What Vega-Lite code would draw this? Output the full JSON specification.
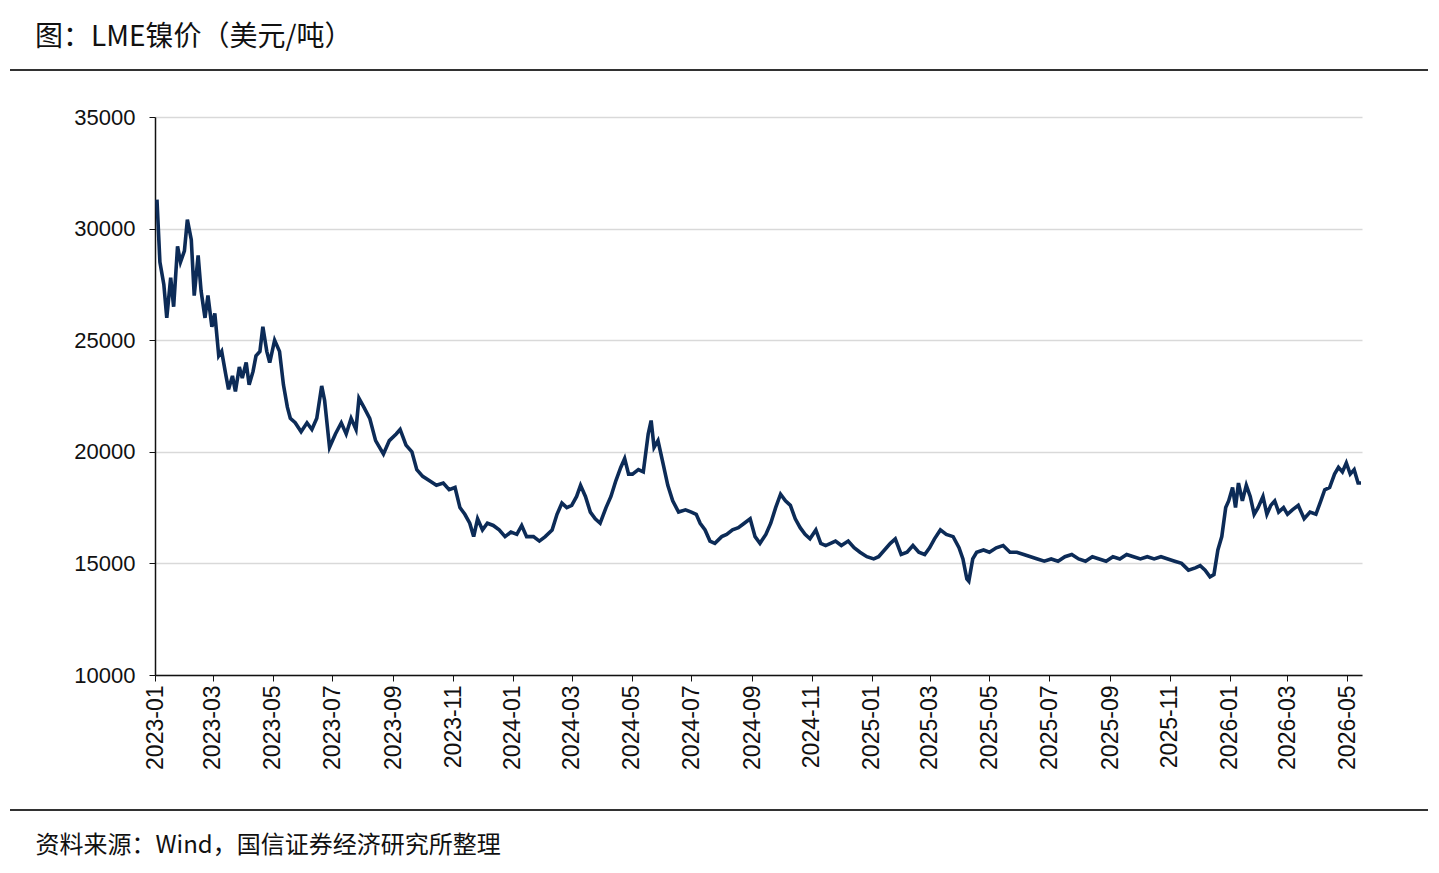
{
"$schema":"https://vega.github.io/schema/vega-lite/v6.json",
"autosize":"none","width":1207,"height":558,
"padding":{"left":155,"top":117,"right":77,"bottom":198},
"background":"white",
"config":{"view":{"stroke":null},"font":"Liberation Sans"},
"title":{"text":"图：LME镍价（美元/吨）","anchor":"start","frame":"group","dx":-120,"offset":17,"fontSize":28,"fontWeight":"normal","font":"Noto Sans CJK SC","color":"#111"},
"data":{"values":[
{"d":"2023-01-03","v":31300},{"d":"2023-01-06","v":28500},{"d":"2023-01-10","v":27500},{"d":"2023-01-13","v":26000},{"d":"2023-01-17","v":27800},{"d":"2023-01-20","v":26500},{"d":"2023-01-24","v":29200},{"d":"2023-01-27","v":28500},{"d":"2023-01-31","v":29000},{"d":"2023-02-03","v":30400},{"d":"2023-02-07","v":29500},{"d":"2023-02-10","v":27000},{"d":"2023-02-14","v":28800},{"d":"2023-02-17","v":27200},{"d":"2023-02-21","v":26000},{"d":"2023-02-24","v":27000},{"d":"2023-02-28","v":25600},{"d":"2023-03-03","v":26200},{"d":"2023-03-07","v":24300},{"d":"2023-03-10","v":24500},{"d":"2023-03-14","v":23500},{"d":"2023-03-17","v":22800},{"d":"2023-03-21","v":23400},{"d":"2023-03-24","v":22700},{"d":"2023-03-28","v":23800},{"d":"2023-03-31","v":23300},{"d":"2023-04-04","v":24000},{"d":"2023-04-07","v":23000},{"d":"2023-04-11","v":23600},{"d":"2023-04-14","v":24300},{"d":"2023-04-18","v":24500},{"d":"2023-04-21","v":25600},{"d":"2023-04-25","v":24500},{"d":"2023-04-28","v":24000},{"d":"2023-05-03","v":25000},{"d":"2023-05-08","v":24500},{"d":"2023-05-12","v":23000},{"d":"2023-05-16","v":22000},{"d":"2023-05-19","v":21500},{"d":"2023-05-24","v":21300},{"d":"2023-05-30","v":20900},{"d":"2023-06-05","v":21300},{"d":"2023-06-10","v":21000},{"d":"2023-06-15","v":21500},{"d":"2023-06-20","v":22950},{"d":"2023-06-23","v":22300},{"d":"2023-06-28","v":20200},{"d":"2023-07-04","v":20800},{"d":"2023-07-10","v":21300},{"d":"2023-07-15","v":20800},{"d":"2023-07-20","v":21500},{"d":"2023-07-25","v":21000},{"d":"2023-07-28","v":22400},{"d":"2023-08-02","v":22000},{"d":"2023-08-08","v":21500},{"d":"2023-08-14","v":20500},{"d":"2023-08-18","v":20200},{"d":"2023-08-22","v":19900},{"d":"2023-08-28","v":20500},{"d":"2023-09-04","v":20800},{"d":"2023-09-08","v":21000},{"d":"2023-09-14","v":20300},{"d":"2023-09-20","v":20000},{"d":"2023-09-25","v":19200},{"d":"2023-10-01","v":18900},{"d":"2023-10-08","v":18700},{"d":"2023-10-15","v":18500},{"d":"2023-10-22","v":18600},{"d":"2023-10-28","v":18300},{"d":"2023-11-03","v":18400},{"d":"2023-11-08","v":17500},{"d":"2023-11-13","v":17200},{"d":"2023-11-18","v":16800},{"d":"2023-11-22","v":16200},{"d":"2023-11-26","v":17000},{"d":"2023-12-01","v":16500},{"d":"2023-12-06","v":16800},{"d":"2023-12-12","v":16700},{"d":"2023-12-18","v":16500},{"d":"2023-12-24","v":16200},{"d":"2023-12-30","v":16400},
{"d":"2024-01-05","v":16300},{"d":"2024-01-10","v":16700},{"d":"2024-01-15","v":16200},{"d":"2024-01-22","v":16200},{"d":"2024-01-28","v":16000},{"d":"2024-02-03","v":16200},{"d":"2024-02-10","v":16500},{"d":"2024-02-15","v":17200},{"d":"2024-02-20","v":17700},{"d":"2024-02-25","v":17500},{"d":"2024-03-01","v":17600},{"d":"2024-03-06","v":18000},{"d":"2024-03-10","v":18500},{"d":"2024-03-15","v":18000},{"d":"2024-03-20","v":17300},{"d":"2024-03-25","v":17000},{"d":"2024-03-30","v":16800},{"d":"2024-04-05","v":17500},{"d":"2024-04-10","v":18000},{"d":"2024-04-15","v":18700},{"d":"2024-04-20","v":19300},{"d":"2024-04-24","v":19700},{"d":"2024-04-28","v":19000},{"d":"2024-05-02","v":19000},{"d":"2024-05-08","v":19200},{"d":"2024-05-13","v":19100},{"d":"2024-05-18","v":20800},{"d":"2024-05-21","v":21400},{"d":"2024-05-24","v":20200},{"d":"2024-05-28","v":20500},{"d":"2024-06-02","v":19500},{"d":"2024-06-07","v":18500},{"d":"2024-06-12","v":17800},{"d":"2024-06-18","v":17300},{"d":"2024-06-25","v":17400},{"d":"2024-07-01","v":17300},{"d":"2024-07-06","v":17200},{"d":"2024-07-10","v":16800},{"d":"2024-07-15","v":16500},{"d":"2024-07-20","v":16000},{"d":"2024-07-25","v":15900},{"d":"2024-08-01","v":16200},{"d":"2024-08-06","v":16300},{"d":"2024-08-12","v":16500},{"d":"2024-08-18","v":16600},{"d":"2024-08-24","v":16800},{"d":"2024-08-30","v":17000},{"d":"2024-09-04","v":16200},{"d":"2024-09-09","v":15900},{"d":"2024-09-15","v":16300},{"d":"2024-09-20","v":16800},{"d":"2024-09-25","v":17500},{"d":"2024-09-30","v":18100},{"d":"2024-10-05","v":17800},{"d":"2024-10-10","v":17600},{"d":"2024-10-15","v":17000},{"d":"2024-10-20","v":16600},{"d":"2024-10-25","v":16300},{"d":"2024-10-30","v":16100},{"d":"2024-11-05","v":16500},{"d":"2024-11-10","v":15900},{"d":"2024-11-15","v":15800},{"d":"2024-11-20","v":15900},{"d":"2024-11-25","v":16000},{"d":"2024-12-01","v":15800},{"d":"2024-12-08","v":16000},{"d":"2024-12-14","v":15700},{"d":"2024-12-20","v":15500},{"d":"2024-12-27","v":15300},
{"d":"2025-01-03","v":15200},{"d":"2025-01-08","v":15300},{"d":"2025-01-14","v":15600},{"d":"2025-01-20","v":15900},{"d":"2025-01-25","v":16100},{"d":"2025-01-31","v":15400},{"d":"2025-02-06","v":15500},{"d":"2025-02-12","v":15800},{"d":"2025-02-18","v":15500},{"d":"2025-02-24","v":15400},{"d":"2025-03-01","v":15700},{"d":"2025-03-06","v":16100},{"d":"2025-03-12","v":16500},{"d":"2025-03-18","v":16300},{"d":"2025-03-25","v":16200},{"d":"2025-03-31","v":15700},{"d":"2025-04-04","v":15200},{"d":"2025-04-08","v":14300},{"d":"2025-04-10","v":14200},{"d":"2025-04-14","v":15200},{"d":"2025-04-18","v":15500},{"d":"2025-04-25","v":15600},{"d":"2025-05-01","v":15500},{"d":"2025-05-08","v":15700},{"d":"2025-05-15","v":15800},{"d":"2025-05-22","v":15500},{"d":"2025-05-29","v":15500},{"d":"2025-06-05","v":15400},{"d":"2025-06-12","v":15300},{"d":"2025-06-19","v":15200},{"d":"2025-06-26","v":15100},{"d":"2025-07-03","v":15200},{"d":"2025-07-10","v":15100},{"d":"2025-07-17","v":15300},{"d":"2025-07-24","v":15400},{"d":"2025-07-31","v":15200},{"d":"2025-08-07","v":15100},{"d":"2025-08-14","v":15300},{"d":"2025-08-21","v":15200},{"d":"2025-08-28","v":15100},{"d":"2025-09-04","v":15300},{"d":"2025-09-11","v":15200},{"d":"2025-09-18","v":15400},{"d":"2025-09-25","v":15300},{"d":"2025-10-02","v":15200},{"d":"2025-10-09","v":15300},{"d":"2025-10-16","v":15200},{"d":"2025-10-23","v":15300},{"d":"2025-10-30","v":15200},{"d":"2025-11-06","v":15100},{"d":"2025-11-13","v":15000},{"d":"2025-11-20","v":14700},{"d":"2025-11-27","v":14800},{"d":"2025-12-02","v":14900},{"d":"2025-12-07","v":14700},{"d":"2025-12-12","v":14400},{"d":"2025-12-16","v":14500},{"d":"2025-12-20","v":15600},{"d":"2025-12-24","v":16200},{"d":"2025-12-28","v":17500},{"d":"2025-12-31","v":17800},
{"d":"2026-01-04","v":18400},{"d":"2026-01-07","v":17500},{"d":"2026-01-10","v":18600},{"d":"2026-01-14","v":17800},{"d":"2026-01-18","v":18500},{"d":"2026-01-22","v":18000},{"d":"2026-01-26","v":17200},{"d":"2026-01-30","v":17500},{"d":"2026-02-04","v":18000},{"d":"2026-02-08","v":17200},{"d":"2026-02-12","v":17600},{"d":"2026-02-16","v":17800},{"d":"2026-02-20","v":17300},{"d":"2026-02-25","v":17500},{"d":"2026-03-01","v":17200},{"d":"2026-03-06","v":17400},{"d":"2026-03-12","v":17600},{"d":"2026-03-18","v":17000},{"d":"2026-03-24","v":17300},{"d":"2026-03-30","v":17200},{"d":"2026-04-04","v":17800},{"d":"2026-04-08","v":18300},{"d":"2026-04-13","v":18400},{"d":"2026-04-18","v":19000},{"d":"2026-04-22","v":19300},{"d":"2026-04-26","v":19100},{"d":"2026-04-30","v":19500},{"d":"2026-05-04","v":19000},{"d":"2026-05-08","v":19200},{"d":"2026-05-12","v":18600},{"d":"2026-05-15","v":18600}
]},
"layer":[
{"mark":{"type":"line","color":"#0c2b57","strokeWidth":3.6,"clip":true},
"encoding":{
"x":{"field":"d","type":"temporal","scale":{"domain":["2023-01-01","2026-05-16"]},
"axis":{"values":["2023-01-01","2023-03-01","2023-05-01","2023-07-01","2023-09-01","2023-11-01","2024-01-01","2024-03-01","2024-05-01","2024-07-01","2024-09-01","2024-11-01","2025-01-01","2025-03-01","2025-05-01","2025-07-01","2025-09-01","2025-11-01","2026-01-01","2026-03-01","2026-05-01"],
"format":"%Y-%m","labelAngle":-90,"labelFontSize":23,"labelColor":"#111","domainColor":"#111","domainWidth":1.5,"tickColor":"#111","tickSize":6,"grid":false,"labelPadding":4,
"title":"资料来源：Wind，国信证券经济研究所整理","titleFont":"Noto Sans CJK SC","titleFontSize":24,"titleFontWeight":"normal","titleColor":"#111","titleAnchor":"start","titleAlign":"left","titleX":-120,"titleY":158}},
"y":{"field":"v","type":"quantitative","scale":{"domain":[10000,35000]},
"axis":{"values":[10000,15000,20000,25000,30000,35000],"format":"d","labelFontSize":22,"labelColor":"#111","domainColor":"#111","domainWidth":1.5,"tickColor":"#111","tickSize":6,"gridColor":"#d9d9d9","gridWidth":1.5,"title":null,"labelPadding":14}}}},
{"mark":{"type":"rule","color":"#333","strokeWidth":1.5},"encoding":{"x":{"value":-145},"x2":{"value":1273},"y":{"value":-47}}},
{"mark":{"type":"rule","color":"#333","strokeWidth":1.5},"encoding":{"x":{"value":-145},"x2":{"value":1273},"y":{"value":693}}}
]
}
